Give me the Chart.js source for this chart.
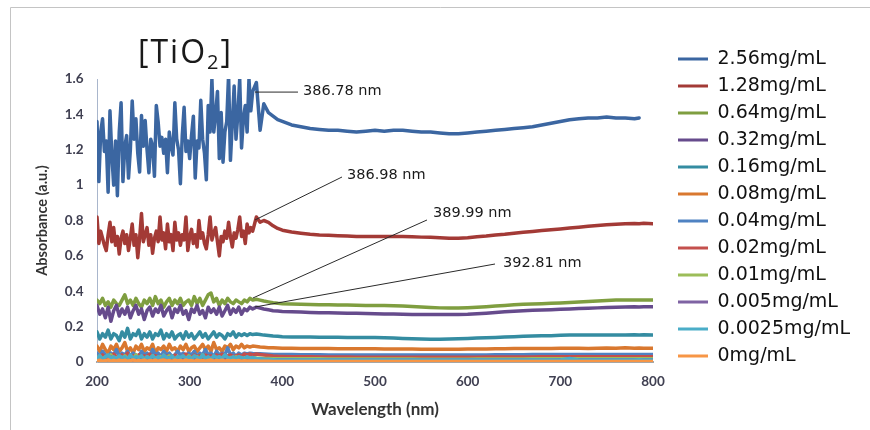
<!DOCTYPE html>
<html>
<head>
<meta charset="utf-8">
<script src="https://cdn.jsdelivr.net/npm/chart.js@4/dist/chart.umd.min.js"></script>
<style>
  html, body { margin: 0; padding: 0; background: #ffffff; }
  canvas { display: block; }
</style>
</head>
<body>
<canvas id="chart" width="870" height="430"></canvas>
<script>
// ---------------- DATA ----------------
// wavelength grid (nm) used by the two strongest, noisiest spectra
const wavelengthFine = [
  200,202,204,206,208,210,212,214,216,218,
  220,222,224,226,228,230,232,234,236,238,
  240,242,244,246,248,250,252,254,256,258,
  260,262,264,266,268,270,272,274,276,278,
  280,282,284,286,288,290,292,294,296,298,
  300,302,304,306,308,310,312,314,316,318,
  320,322,324,326,328,330,332,334,336,338,
  340,342,344,346,348,350,352,354,356,358,
  360,362,364,366,368,
  372,376,380,385,390,395,
  400,410,420,430,440,450,460,
  470,480,490,500,510,520,530,540,550,560,
  570,580,590,600,610,620,630,640,650,660,
  670,680,690,700,710,720,730,740,750,760,
  770,780,785,790,800
];
// wavelength grid (nm) used by the other spectra
const wavelength = [
  200,203,206,209,212,215,218,221,224,227,
  230,233,236,239,242,245,248,251,254,257,
  260,263,266,269,272,275,278,281,284,287,
  290,293,296,299,302,305,308,311,314,317,
  320,323,326,329,332,335,338,341,344,347,
  350,353,356,359,362,365,368,372,376,380,
  385,390,395,400,410,420,430,440,450,460,
  470,480,490,500,510,520,530,540,550,560,
  570,580,590,600,610,620,630,640,650,660,
  670,680,690,700,710,720,730,740,750,760,
  770,780,785,790,800
];

const seriesLabels = ['2.56mg/mL','1.28mg/mL','0.64mg/mL','0.32mg/mL','0.16mg/mL','0.08mg/mL',
                      '0.04mg/mL','0.02mg/mL','0.01mg/mL','0.005mg/mL','0.0025mg/mL','0mg/mL'];

const abs256 = [
  1.36,1.02,1.30,1.375,1.19,1.25,0.96,1.42,1.17,1.00,
  1.25,0.94,1.30,1.466,1.02,1.22,1.28,1.04,1.20,1.476,
  1.26,1.375,1.18,1.074,1.394,1.22,1.365,1.20,1.07,1.26,
  1.22,1.05,1.45,1.357,1.22,1.27,1.18,1.26,1.07,1.30,
  1.22,1.17,1.466,1.26,1.20,1.008,1.28,1.44,1.19,1.25,
  1.15,1.28,1.39,1.04,1.25,1.21,1.48,1.26,1.18,1.03,
  1.45,1.30,1.60,1.30,1.40,1.53,1.15,1.41,1.13,1.30,
  1.36,1.624,1.14,1.35,1.56,1.26,1.40,1.60,1.21,1.38,
  1.45,1.30,1.60,1.42,1.53,
  1.58,1.31,1.46,1.41,1.39,1.37,
  1.36,1.34,1.33,1.32,1.315,1.31,1.31,
  1.305,1.30,1.305,1.31,1.305,1.31,1.31,1.305,1.30,1.30,
  1.295,1.29,1.29,1.295,1.30,1.305,1.31,1.315,1.32,1.325,
  1.33,1.34,1.35,1.36,1.37,1.375,1.38,1.38,1.385,1.38,
  1.38,1.375,1.38,null,null
];
const abs128 = [
  0.82,0.67,0.74,0.70,0.66,0.63,0.72,0.79,0.68,0.76,
  0.66,0.71,0.61,0.70,0.74,0.67,0.72,0.63,0.70,0.78,
  0.66,0.72,0.59,0.70,0.84,0.68,0.72,0.76,0.66,0.72,
  0.615,0.70,0.74,0.68,0.82,0.69,0.73,0.64,0.78,0.68,
  0.72,0.63,0.79,0.69,0.73,0.66,0.72,0.69,0.82,0.63,
  0.71,0.75,0.67,0.72,0.65,0.80,0.70,0.73,0.67,0.64,
  0.72,0.82,0.69,0.73,0.76,0.68,0.60,0.71,0.68,0.74,
  0.70,0.79,0.71,0.65,0.73,0.70,0.75,0.82,0.71,0.74,
  0.67,0.78,0.73,0.76,0.74,
  0.82,0.79,0.80,0.79,0.77,0.755,
  0.745,0.735,0.728,0.722,0.718,0.716,0.714,
  0.712,0.71,0.71,0.71,0.71,0.71,0.71,0.708,0.706,0.705,
  0.703,0.70,0.70,0.702,0.708,0.712,0.718,0.722,0.728,0.733,
  0.738,0.743,0.748,0.752,0.757,0.762,0.767,0.772,0.776,0.779,
  0.782,0.783,0.781,0.784,0.782
];
const abs064 = [
  0.35,0.33,0.36,0.32,0.34,0.31,0.35,0.33,0.32,0.35,
  0.38,0.33,0.35,0.32,0.36,0.33,0.31,0.35,0.33,0.36,
  0.32,0.37,0.33,0.35,0.31,0.34,0.36,0.32,0.35,0.33,
  0.36,0.32,0.34,0.35,0.32,0.37,0.33,0.36,0.32,0.35,
  0.38,0.39,0.34,0.36,0.32,0.35,0.33,0.36,0.34,0.33,
  0.35,0.34,0.33,0.35,0.34,0.36,0.35,0.355,0.35,0.345,
  0.34,0.335,0.332,0.33,0.328,0.326,0.325,0.324,0.323,0.322,
  0.322,0.321,0.32,0.32,0.319,0.318,0.317,0.314,0.311,0.308,
  0.306,0.305,0.305,0.307,0.31,0.313,0.317,0.32,0.323,0.326,
  0.328,0.33,0.332,0.334,0.336,0.339,0.342,0.345,0.348,0.35,
  0.35,0.351,0.35,0.351,0.35
];
const abs032 = [
  0.32,0.27,0.30,0.25,0.31,0.23,0.29,0.32,0.26,0.30,
  0.27,0.31,0.25,0.29,0.32,0.27,0.30,0.24,0.29,0.31,
  0.26,0.30,0.28,0.32,0.26,0.29,0.31,0.25,0.30,0.28,
  0.32,0.27,0.29,0.24,0.30,0.28,0.32,0.27,0.29,0.25,
  0.31,0.28,0.30,0.27,0.31,0.26,0.29,0.32,0.27,0.30,
  0.28,0.31,0.27,0.30,0.29,0.31,0.30,0.31,0.305,0.30,
  0.295,0.29,0.288,0.286,0.284,0.282,0.28,0.279,0.278,0.277,
  0.276,0.275,0.274,0.273,0.272,0.271,0.27,0.269,0.268,0.268,
  0.268,0.268,0.269,0.27,0.273,0.276,0.28,0.284,0.287,0.29,
  0.292,0.294,0.296,0.298,0.30,0.302,0.304,0.306,0.308,0.31,
  0.311,0.312,0.311,0.313,0.312
];
const abs016 = [
  0.17,0.13,0.16,0.14,0.18,0.13,0.16,0.15,0.12,0.17,
  0.14,0.19,0.13,0.16,0.15,0.18,0.13,0.16,0.14,0.17,
  0.13,0.16,0.15,0.18,0.13,0.16,0.14,0.17,0.13,0.15,
  0.16,0.13,0.17,0.14,0.16,0.13,0.15,0.17,0.14,0.16,
  0.13,0.15,0.17,0.14,0.16,0.15,0.13,0.16,0.15,0.17,
  0.14,0.16,0.15,0.16,0.15,0.16,0.155,0.158,0.155,0.152,
  0.15,0.147,0.145,0.143,0.142,0.141,0.141,0.14,0.14,0.14,
  0.139,0.139,0.139,0.138,0.137,0.135,0.133,0.131,0.13,0.129,
  0.129,0.13,0.131,0.133,0.135,0.137,0.139,0.141,0.143,0.145,
  0.147,0.148,0.149,0.151,0.153,0.152,0.152,0.153,0.153,0.152,
  0.153,0.154,0.153,0.154,0.153
];
const abs008 = [
  0.09,0.06,0.10,0.07,0.05,0.09,0.07,0.10,0.06,0.08,
  0.11,0.06,0.08,0.05,0.09,0.07,0.10,0.06,0.08,0.07,
  0.10,0.05,0.08,0.07,0.09,0.06,0.10,0.07,0.08,0.06,
  0.09,0.07,0.10,0.06,0.08,0.09,0.06,0.08,0.10,0.07,
  0.09,0.06,0.11,0.07,0.08,0.06,0.09,0.08,0.10,0.07,
  0.09,0.08,0.10,0.08,0.09,0.085,0.09,0.088,0.085,0.083,
  0.081,0.08,0.079,0.078,0.078,0.077,0.077,0.076,0.076,0.075,
  0.075,0.075,0.075,0.075,0.074,0.074,0.073,0.073,0.072,0.072,
  0.072,0.072,0.072,0.073,0.073,0.074,0.075,0.075,0.076,0.076,
  0.077,0.077,0.077,0.078,0.078,0.078,0.077,0.078,0.079,0.078,
  0.08,0.078,0.079,0.078,0.078
];
const abs004 = [
  0.05,0.03,0.06,0.04,0.02,0.05,0.04,0.07,0.03,0.05,
  0.04,0.06,0.03,0.05,0.04,0.03,0.06,0.04,0.05,0.03,
  0.07,0.04,0.05,0.03,0.06,0.04,0.05,0.03,0.04,0.06,
  0.04,0.05,0.03,0.05,0.04,0.06,0.03,0.05,0.04,0.07,
  0.04,0.05,0.03,0.06,0.04,0.05,0.04,0.08,0.04,0.05,
  0.03,0.05,0.04,0.05,0.045,0.05,0.048,0.047,0.046,0.045,
  0.044,0.043,0.043,0.042,0.042,0.041,0.041,0.041,0.04,0.04,
  0.04,0.04,0.04,0.04,0.04,0.039,0.039,0.039,0.039,0.039,
  0.039,0.039,0.039,0.04,0.04,0.04,0.041,0.041,0.041,0.041,
  0.042,0.042,0.042,0.042,0.042,0.043,0.042,0.043,0.043,0.043,
  0.042,0.043,0.043,0.042,0.043
];
const abs002 = [
  0.03,0.02,0.04,0.025,0.035,0.02,0.045,0.03,0.02,0.04,
  0.03,0.05,0.02,0.035,0.03,0.04,0.02,0.035,0.03,0.045,
  0.025,0.035,0.03,0.02,0.04,0.03,0.035,0.025,0.04,0.03,
  0.02,0.035,0.045,0.03,0.025,0.04,0.03,0.035,0.025,0.04,
  0.03,0.035,0.02,0.04,0.03,0.045,0.03,0.035,0.04,0.03,
  0.035,0.04,0.03,0.045,0.04,0.045,0.04,0.045,0.042,0.04,
  0.037,0.034,0.032,0.031,0.03,0.029,0.029,0.028,0.028,0.028,
  0.028,0.027,0.027,0.027,0.027,0.027,0.027,0.027,0.027,0.027,
  0.027,0.027,0.027,0.027,0.027,0.028,0.028,0.028,0.028,0.028,
  0.028,0.029,0.029,0.029,0.029,0.03,0.029,0.03,0.03,0.03,
  0.03,0.029,0.03,0.03,0.03
];
const abs001 = [
  0.02,0.035,0.015,0.03,0.02,0.04,0.015,0.025,0.03,0.015,
  0.035,0.02,0.03,0.015,0.04,0.02,0.025,0.015,0.03,0.02,
  0.035,0.015,0.025,0.03,0.015,0.02,0.035,0.02,0.015,0.03,
  0.02,0.025,0.015,0.035,0.02,0.015,0.03,0.02,0.04,0.015,
  0.025,0.02,0.03,0.015,0.025,0.02,0.035,0.02,0.025,0.015,
  0.03,0.02,0.025,0.02,0.025,0.022,0.024,0.022,0.021,0.02,
  0.02,0.019,0.019,0.018,0.018,0.018,0.018,0.018,0.017,0.017,
  0.017,0.017,0.017,0.017,0.017,0.017,0.017,0.017,0.016,0.016,
  0.016,0.016,0.016,0.016,0.017,0.017,0.017,0.017,0.017,0.017,
  0.018,0.018,0.018,0.018,0.018,0.018,0.018,0.018,0.019,0.018,
  0.019,0.018,0.019,0.018,0.019
];
const abs0005 = [
  0.015,0.025,0.01,0.02,0.012,0.028,0.01,0.018,0.024,0.01,
  0.02,0.012,0.025,0.01,0.018,0.022,0.01,0.02,0.014,0.025,
  0.01,0.018,0.022,0.012,0.02,0.01,0.024,0.014,0.018,0.01,
  0.022,0.012,0.018,0.025,0.01,0.02,0.014,0.022,0.01,0.018,
  0.012,0.024,0.015,0.02,0.01,0.022,0.014,0.018,0.02,0.012,
  0.02,0.015,0.018,0.014,0.017,0.016,0.016,0.015,0.015,0.014,
  0.014,0.013,0.013,0.013,0.013,0.012,0.012,0.012,0.012,0.012,
  0.012,0.012,0.012,0.012,0.012,0.012,0.011,0.011,0.011,0.011,
  0.011,0.011,0.011,0.011,0.011,0.012,0.012,0.012,0.012,0.012,
  0.012,0.012,0.012,0.013,0.013,0.013,0.013,0.013,0.013,0.013,
  0.013,0.013,0.013,0.013,0.013
];
const abs00025 = [
  0.02,0.035,0.015,0.03,0.04,0.02,0.03,0.015,0.035,0.025,
  0.03,0.015,0.04,0.02,0.03,0.025,0.035,0.015,0.03,0.02,
  0.035,0.02,0.03,0.015,0.04,0.025,0.02,0.035,0.015,0.03,
  0.025,0.035,0.02,0.03,0.015,0.035,0.025,0.02,0.04,0.02,
  0.03,0.015,0.035,0.025,0.03,0.02,0.04,0.025,0.02,0.03,
  0.02,0.03,0.025,0.02,0.03,0.022,0.025,0.02,0.018,0.015,
  0.014,0.013,0.012,0.012,0.012,0.011,0.011,0.011,0.011,0.011,
  0.011,0.011,0.011,0.011,0.011,0.011,0.011,0.012,0.011,0.011,
  0.011,0.011,0.011,0.011,0.011,0.011,0.011,0.011,0.011,0.011,
  0.011,0.012,0.011,0.012,0.02,0.012,0.012,0.012,0.012,0.012,
  0.012,0.012,0.013,0.012,0.012
];
const abs0 = [
  0.005,0.01,0.004,0.008,0.012,0.004,0.009,0.005,0.011,0.006,
  0.01,0.004,0.008,0.012,0.005,0.009,0.006,0.011,0.004,0.008,
  0.006,0.01,0.004,0.009,0.012,0.005,0.008,0.004,0.01,0.006,
  0.009,0.005,0.011,0.006,0.008,0.004,0.01,0.006,0.009,0.005,
  0.008,0.011,0.005,0.009,0.006,0.01,0.005,0.008,0.006,0.009,
  0.006,0.008,0.005,0.007,0.006,0.006,0.005,0.005,0.004,0.004,
  0.004,0.003,0.003,0.003,0.003,0.003,0.003,0.003,0.003,0.003,
  0.003,0.003,0.003,0.003,0.003,0.003,0.003,0.003,0.003,0.003,
  0.003,0.003,0.003,0.003,0.003,0.003,0.003,0.003,0.003,0.003,
  0.003,0.003,0.003,0.003,0.003,0.003,0.003,0.003,0.003,0.003,
  0.003,0.003,0.003,0.003,0.003
];

const seriesValues = [abs256, abs128, abs064, abs032, abs016, abs008,
                      abs004, abs002, abs001, abs0005, abs00025, abs0];
const seriesWavelengths = [wavelengthFine, wavelengthFine, wavelength, wavelength, wavelength, wavelength,
                           wavelength, wavelength, wavelength, wavelength, wavelength, wavelength];

const xTicks = [200, 300, 400, 500, 600, 700, 800];
const xTickLabels = ['200', '300', '400', '500', '600', '700', '800'];
const yTicks = [0, 0.2, 0.4, 0.6, 0.8, 1.0, 1.2, 1.4, 1.6];
const yTickLabels = ['0', '0.2', '0.4', '0.6', '0.8', '1', '1.2', '1.4', '1.6'];

// peak annotations: leader line from (fromX, fromY) to (toX, toY), label at (textX, textY), data units
const peakLabels = ['386.78 nm', '386.98 nm', '389.99 nm', '392.81 nm'];
const peakFromX = [370.5, 370.5, 368.3, 370.5];
const peakFromY = [1.526, 0.803, 0.362, 0.311];
const peakToX   = [416.9, 464.4, 556.1, 629.5];
const peakToY   = [1.526, 1.046, 0.803, 0.554];
const peakTextX = [422.3, 469.8, 562.6, 638.1];
const peakTextY = [1.532, 1.057, 0.842, 0.560];

const chartTitleMain = '[TiO';
const chartTitleSub = '2';
const chartTitleEnd = ']';

// ---------------- STYLE ----------------
const seriesColors = ['#3b66a1', '#a33a36', '#7f9e40', '#664b8c', '#348ca1', '#d9782f',
                      '#4f82c2', '#c4504d', '#9cbd59', '#7f63a3', '#4aadc8', '#f79646'];

const datasets = seriesLabels.map((label, i) => ({
  label: label,
  data: seriesWavelengths[i].map((x, j) => ({ x: x, y: seriesValues[i][j] }))
          .filter(p => p.y !== null && p.y !== undefined),
  borderColor: seriesColors[i],
  backgroundColor: seriesColors[i],
  borderWidth: 3.5,
  pointRadius: 0,
  pointHoverRadius: 0,
  tension: 0,
  fill: false,
  borderJoinStyle: 'round',
  borderCapStyle: 'round'
})).reverse(); // later series drawn on top, as in the original

const framePlugin = {
  id: 'frame',
  beforeDraw(chart) {
    const c = chart.ctx;
    c.save();
    c.strokeStyle = '#c4c4c4';
    c.lineWidth = 1;
    c.beginPath();
    c.moveTo(10.5, chart.height);
    c.lineTo(10.5, 7.5);
    c.lineTo(chart.width, 7.5);
    c.stroke();
    c.restore();
  }
};

const titlePlugin = {
  id: 'richTitle',
  afterDraw(chart) {
    const c = chart.ctx;
    c.save();
    c.fillStyle = '#1a1a1a';
    c.textBaseline = 'alphabetic';
    c.textAlign = 'left';
    if ('letterSpacing' in c) c.letterSpacing = '2px';
    let x = 138;
    c.font = '32px "Open Sans"';
    c.fillText(chartTitleMain, x, 62.5);
    x += c.measureText(chartTitleMain).width;
    c.font = '20px "Open Sans"';
    c.fillText(chartTitleSub, x, 68.5);
    x += c.measureText(chartTitleSub).width;
    c.font = '32px "Open Sans"';
    c.fillText(chartTitleEnd, x, 62.5);
    c.restore();
  }
};

const peakPlugin = {
  id: 'peaks',
  afterDatasetsDraw(chart) {
    const c = chart.ctx;
    const xs = chart.scales.x, ys = chart.scales.y;
    c.save();
    c.strokeStyle = '#2a2a2a';
    c.lineWidth = 1;
    c.fillStyle = '#1a1a1a';
    c.font = '14.5px "DejaVu Sans"';
    c.textBaseline = 'middle';
    c.textAlign = 'left';
    peakLabels.forEach((t, i) => {
      c.beginPath();
      c.moveTo(xs.getPixelForValue(peakFromX[i]), ys.getPixelForValue(peakFromY[i]));
      c.lineTo(xs.getPixelForValue(peakToX[i]), ys.getPixelForValue(peakToY[i]));
      c.stroke();
      c.fillText(t, xs.getPixelForValue(peakTextX[i]), ys.getPixelForValue(peakTextY[i]));
    });
    c.restore();
  }
};

const tickColor = '#404052';

new Chart(document.getElementById('chart'), {
  type: 'line',
  data: { datasets: datasets },
  options: {
    responsive: false,
    animation: false,
    devicePixelRatio: 1,
    parsing: false,
    normalized: true,
    events: [],
    layout: { padding: { top: 41.5, right: 0, bottom: 0, left: 0 } },
    plugins: {
      title: { display: true, text: '', font: { size: 30, lineHeight: 1 }, padding: { top: 0, bottom: 7.5 } },
      legend: {
        display: true,
        position: 'right',
        align: 'start',
        reverse: true,
        labels: {
          usePointStyle: true,
          pointStyle: 'line',
          pointStyleWidth: 47,
          padding: 8,
          color: '#111111',
          font: { family: 'DejaVu Sans', size: 19 },
          generateLabels: chart => Chart.defaults.plugins.legend.labels.generateLabels(chart)
            .map(item => Object.assign(item, { pointStyle: 'line', lineCap: 'butt', lineWidth: 3, lineDash: [0, 17, 30, 1000] }))
        }
      },
      tooltip: { enabled: false }
    },
    scales: {
      x: {
        type: 'linear',
        min: 200,
        max: 800,
        z: 1,
        grid: { display: false, drawTicks: false },
        border: { display: true, color: '#a6a6a6', width: 2 },
        afterBuildTicks: s => { s.ticks = xTicks.map(v => ({ value: v })); },
        ticks: {
          padding: 12,
          color: tickColor,
          autoSkip: false,
          maxRotation: 0,
          font: { family: 'Lato', size: 13.5, weight: 'bold' },
          callback: (v, i) => xTickLabels[i]
        },
        title: {
          display: true,
          text: 'Wavelength (nm)',
          color: '#333333',
          font: { family: 'Lato', size: 17, weight: 'bold' },
          padding: { top: 0, bottom: 10 }
        },
        afterFit: s => { s.height = 68; s.paddingRight = 217; }
      },
      y: {
        type: 'linear',
        position: 'left',
        min: 0,
        max: 1.6,
        grid: { display: false, drawTicks: false },
        border: { display: true, color: '#a9b6cc', width: 1 },
        afterBuildTicks: s => { s.ticks = yTicks.map(v => ({ value: v })); },
        ticks: {
          padding: 13.5,
          color: tickColor,
          autoSkip: false,
          font: { family: 'Lato', size: 13.5, weight: 'bold' },
          callback: (v, i) => yTickLabels[i]
        },
        title: {
          display: true,
          text: 'Absorbance (a.u.)',
          color: '#333333',
          font: { family: 'Lato', size: 14.5, weight: 'bold' },
          padding: { top: 33.8, bottom: 0 }
        },
        afterFit: s => { s.width = 97; }
      }
    }
  },
  plugins: [framePlugin, titlePlugin, peakPlugin]
});
</script>
</body>
</html>
